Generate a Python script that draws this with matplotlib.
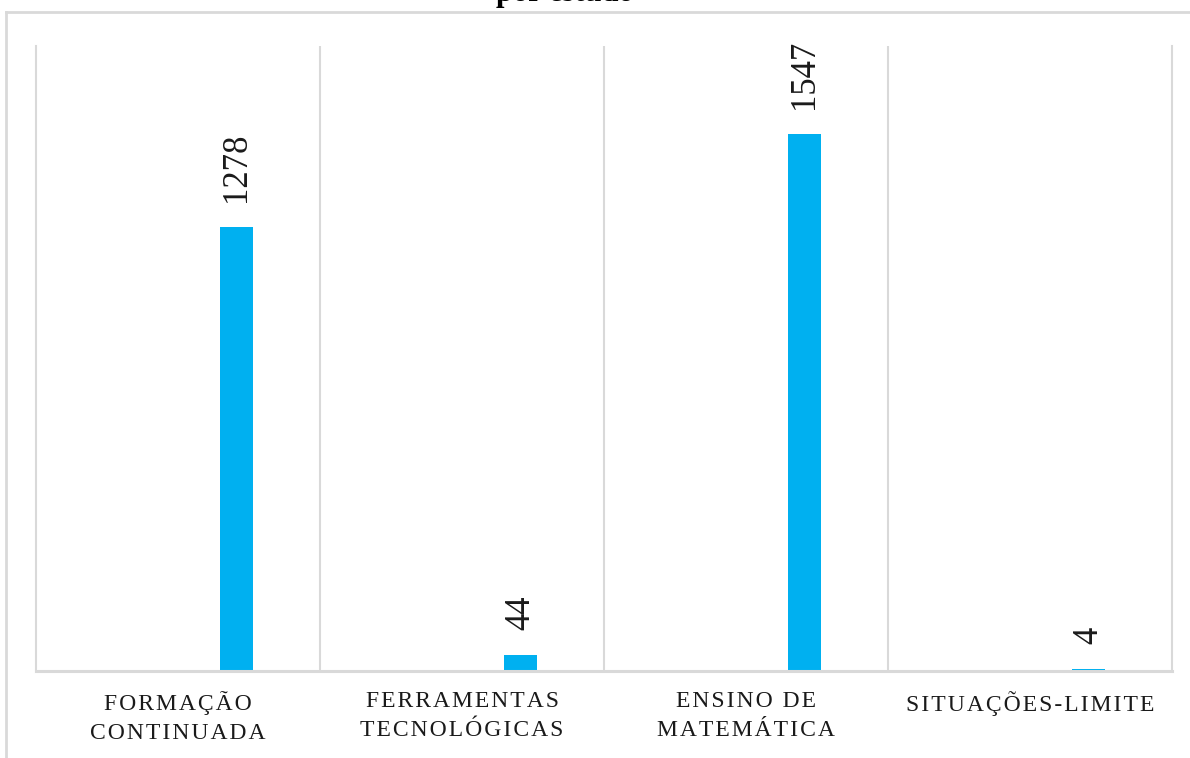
import matplotlib
matplotlib.use('Agg')
import numpy as np
from matplotlib import pyplot as plt
from matplotlib.lines import Line2D


# Chart data
categories = ['FORMAÇÃO\nCONTINUADA', 'FERRAMENTAS\nTECNOLÓGICAS', 'ENSINO DE\nMATEMÁTICA', 'SITUAÇÕES-LIMITE']
counts = [1278, 44, 1547, 4]
title_tail = 'por estudo'

BAR_COLOR = '#00B0F0'
GRID_COLOR = '#d9d9d9'
TEXT_COLOR = '#1a1a1a'
FONT = ['Liberation Serif', 'DejaVu Serif']

plt.rcParams['font.family'] = FONT


def spaced(label):
    # Excel-like character spacing: hair space between letters
    return '\n'.join('\u200a'.join(line) for line in label.split('\n'))


W, H = 1190, 758
fig = plt.figure(figsize=(W / 100, H / 100), dpi=100)
ax = fig.add_axes([36 / W, 1 - 670.6 / H, (1172 - 36) / W, (670.6 - 46) / H])

x = np.arange(len(categories))
offset = 0.206
width = 0.113
bars = ax.bar(x + offset, counts, width=width, color=BAR_COLOR, zorder=2)

for rect, val in zip(bars, counts):
    ax.annotate(str(val), (rect.get_x() + rect.get_width() / 2, rect.get_height()),
                xytext=(0, 18), textcoords='offset points', rotation=90,
                ha='center', va='bottom', fontsize=25, color=TEXT_COLOR)

ax.set_xlim(-0.5, len(categories) - 0.5)
ax.set_ylim(0, 1800)
ax.set_yticks([])

# category separators
ax.set_xticks(np.arange(len(categories) - 1) + 0.5, minor=True)
ax.grid(axis='x', which='minor', color=GRID_COLOR, linewidth=1.5)
ax.tick_params(axis='x', which='both', length=0)
ax.set_xticks(x)
ax.set_xticklabels([spaced(c) for c in categories], fontsize=17, color=TEXT_COLOR,
                   linespacing=1.5, va='top')
ax.tick_params(axis='x', pad=15)

ax.spines['top'].set_visible(False)
for side in ['left', 'right']:
    ax.spines[side].set_color(GRID_COLOR)
    ax.spines[side].set_linewidth(1.5)
ax.spines['bottom'].set_color(GRID_COLOR)
ax.spines['bottom'].set_linewidth(2.2)
ax.spines['bottom'].set_zorder(4)

# chart area border, cut off at the right and bottom
fig.add_artist(Line2D([6 / W, 1.0], [1 - 11.5 / H, 1 - 11.5 / H], color=GRID_COLOR, linewidth=2))
fig.add_artist(Line2D([6 / W, 6 / W], [0, 1 - 11.5 / H], color=GRID_COLOR, linewidth=2))

# title, mostly outside the cropped picture
fig.text(565 / W, 1 - 1.5 / H, title_tail, ha='center', va='baseline', fontsize=22,
         fontweight='bold', color='black')

fig.savefig('out.png', dpi=100)
